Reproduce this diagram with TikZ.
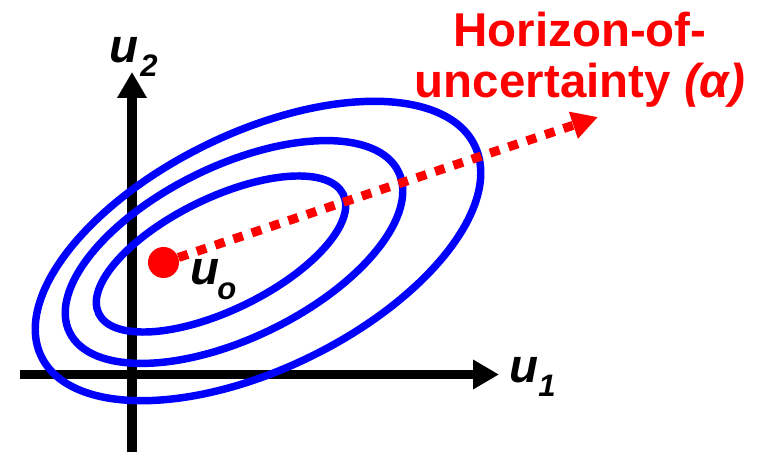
\documentclass[tikz,border=0pt]{standalone}
\usepackage{fontspec}
\setmainfont{Liberation Sans}
\usetikzlibrary{arrows.meta}
\definecolor{hred}{RGB}{255,0,0}
\definecolor{hblue}{RGB}{0,0,255}
\newcommand\subsz{\fontsize{23.3}{24}\selectfont}
\begin{document}
\begin{tikzpicture}[x=0.75pt,y=0.75pt,
  axis/.style={line width=7.1pt, -{Triangle[length=19.5pt,width=21pt]}},
  contour/.style={draw=hblue, line width=5.6pt},
  lab/.style={font=\fontsize{35.6}{40}\selectfont\bfseries\itshape, inner sep=0pt, anchor=base west},
  title/.style={font=\fontsize{35.6}{40}\selectfont\bfseries, text=hred, inner sep=0pt, anchor=base}]
\useasboundingbox (0,0) rectangle (762,452);
% axes
\coordinate (xs) at (20,77.5);
\coordinate (xe) at (499,77.5);
\coordinate (ys) at (132,0);
\coordinate (ye) at (132,380);
\draw[axis] (xs) -- (xe);
\draw[axis] (ys) -- (ye);
% contours
\coordinate (c1) at (221,198);
\coordinate (c2) at (234,200);
\coordinate (c3) at (258,201);
\draw[contour, rotate around={26:(c1)}] (c1) ellipse [x radius=102pt, y radius=42pt];
\draw[contour, rotate around={26:(c2)}] (c2) ellipse [x radius=137.25pt, y radius=64.5pt];
\draw[contour, rotate around={26:(c3)}] (c3) ellipse [x radius=180.75pt, y radius=88.5pt];
% nominal point and horizon arrow
\node[circle, fill=hred, minimum size=23.25pt, inner sep=0pt] (uo) at (163.5,189.5) {};
\coordinate (tip) at (598,335);
\draw[hred, line width=6.75pt, dash pattern=on 7.5pt off 7pt, -{Triangle[length=19.5pt,width=20pt]}] (uo) -- (tip);
% labels
\node[lab] (lu2) at (109,389) {u\kern1.5pt\raisebox{-10.5pt}{\subsz 2}};
\node[lab] (lu1) at (509,69) {u\raisebox{-10.5pt}{\subsz 1}};
\node[lab] (luo) at (190,167) {u\kern-1.5pt\raisebox{-11.25pt}{\subsz o}};
\node[title] (h1) at (580,405) {Horizon-of-};
\node[title] (h2) at (580,354) {uncertainty \textit{(α)}};
\end{tikzpicture}
\end{document}
